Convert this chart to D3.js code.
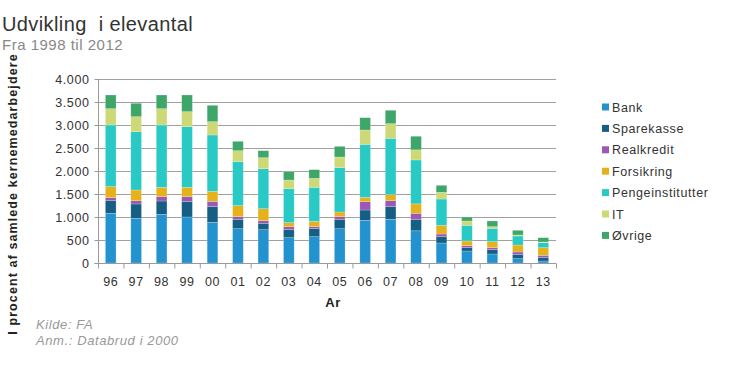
<!DOCTYPE html>
<html><head><meta charset="utf-8">
<script src="https://cdn.jsdelivr.net/npm/d3@7"></script>
<style>body{margin:0;background:#fff}svg{font-family:"Liberation Sans",Arial,sans-serif;letter-spacing:0.6px}</style>
</head><body><svg id="c" width="730" height="365"></svg>
<script>
const years = ["96","97","98","99","00","01","02","03","04","05","06","07","08","09","10","11","12","13"];
const seriesNames = ["Bank","Sparekasse","Realkredit","Forsikring","Pengeinstitutter","IT","Øvrige"];
const bank        = [1080,972,1058,1000,884,746,724,550,572,746,928,950,700,435,261,196,94,43];
const sparekasse  = [275,311,290,333,340,204,139,182,174,204,224,274,250,137,72,94,95,81];
const realkredit  = [65,72,93,108,117,57,57,58,44,57,181,131,130,58,43,43,50,43];
const forsikring  = [240,232,204,204,217,239,260,87,116,102,95,130,205,189,102,130,152,166];
const penge       = [1340,1268,1355,1319,1225,956,870,738,739,963,1152,1225,955,572,341,291,196,108];
const it          = [355,326,355,326,289,239,239,189,196,232,311,319,220,146,94,36,22,16];
const ovrige      = [297,291,297,362,356,204,152,181,188,232,268,291,295,152,87,123,102,93];
const yTicks = [0,500,1000,1500,2000,2500,3000,3500,4000];
const colors = ["#2393cf","#155f84","#9a59b5","#e6b21c","#29c9c5","#cdd877","#3ea668"];

const seriesVals = [bank,sparekasse,realkredit,forsikring,penge,it,ovrige];
const rows = years.map((y,i)=>{const r={year:y}; seriesNames.forEach((s,j)=>r[s]=seriesVals[j][i]); return r;});
const stack = d3.stack().keys(seriesNames)(rows);

const svg = d3.select("#c");
const L=98,R=556,T=79,B=263;
const x = d3.scaleBand().domain(years).range([L,R]).paddingInner(0.58).paddingOuter(0.29);
const y = d3.scaleLinear().domain([0,4000]).range([B,T]);
const loc = d3.formatLocale({decimal:",",thousands:".",grouping:[3],currency:["","kr"]});
const fmt = loc.format(",");

// gridlines
svg.append("g").selectAll("line").data(yTicks.filter(d=>d>0)).join("line")
  .attr("x1",L).attr("x2",R).attr("y1",d=>y(d)+0.5).attr("y2",d=>y(d)+0.5)
  .attr("stroke","#a0a0a0").attr("stroke-width",1);

// bars
svg.append("g").selectAll("g").data(stack).join("g").attr("fill",(d,i)=>colors[i])
  .selectAll("rect").data(d=>d).join("rect")
  .attr("x",d=>x(d.data.year)).attr("width",x.bandwidth())
  .attr("y",d=>y(d[1])).attr("height",d=>y(d[0])-y(d[1]))
  .attr("stroke","#ffffff").attr("stroke-opacity",0.35).attr("stroke-width",0.6);

// y axis
const ya = svg.append("g").attr("transform",`translate(${L+0.5},0)`)
  .call(d3.axisLeft(y).tickValues(yTicks).tickFormat(fmt).tickSize(4).tickPadding(5));
ya.select(".domain").attr("stroke","#999").attr("d",`M-4,${B+0.5}H0V${T}`);
ya.selectAll(".tick line").attr("stroke","#999");
ya.selectAll("text").attr("fill","#333").style("font-size","12.5px").style("font-family","Liberation Sans, Arial, sans-serif");

// x axis
const xa = svg.append("g").attr("transform",`translate(0,${B+0.5})`);
xa.append("line").attr("x1",L).attr("x2",R).attr("stroke","#999");
const bounds = d3.range(years.length+1).map(i=>L+i*(R-L)/years.length);
xa.selectAll("line.t").data(bounds).join("line").attr("class","t")
  .attr("x1",d=>d+0.5).attr("x2",d=>d+0.5).attr("y1",0).attr("y2",5).attr("stroke","#999");
xa.selectAll("text").data(years).join("text")
  .attr("x",d=>x(d)+x.bandwidth()/2).attr("y",22).attr("text-anchor","middle")
  .attr("fill","#333").style("font-size","12.5px").text(d=>d);

// axis titles
svg.append("text").attr("x",333).attr("y",307).attr("text-anchor","middle")
  .attr("fill","#222").style("font-size","13px").style("font-weight","bold").text("Ar");
svg.append("text").attr("transform","translate(17,194) rotate(-90)").attr("text-anchor","middle")
  .attr("fill","#222").style("font-size","12.5px").style("font-weight","bold").style("letter-spacing","1.1px")
  .text("I procent af samlede kernemedarbejdere");

// title
svg.append("text").attr("x",2).attr("y",30.5).attr("fill","#333").style("font-size","20px").style("letter-spacing","0.4px")
  .attr("xml:space","preserve").style("white-space","pre").text("Udvikling  i elevantal");
svg.append("text").attr("x",2).attr("y",50).attr("fill","#888").style("font-size","15px").style("letter-spacing","0.5px").text("Fra 1998 til 2012");

// notes
svg.append("text").attr("x",36).attr("y",329).attr("fill","#999").style("font-size","13px").style("font-style","italic").text("Kilde: FA");
svg.append("text").attr("x",36).attr("y",345).attr("fill","#999").style("font-size","13px").style("font-style","italic").text("Anm.: Databrud i 2000");

// legend
const lg = svg.append("g").selectAll("g").data(seriesNames).join("g")
  .attr("transform",(d,i)=>`translate(602,${107+i*21.4})`);
lg.append("rect").attr("x",0).attr("y",-3.5).attr("width",7).attr("height",7).attr("fill",(d,i)=>colors[i]);
lg.append("text").attr("x",10).attr("y",4.5).attr("fill","#333").style("font-size","12.5px").text(d=>d);
</script></body></html>
